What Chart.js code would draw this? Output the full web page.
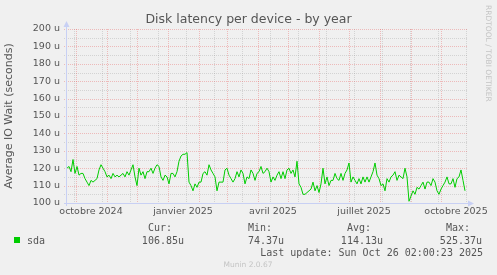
<!doctype html>
<html lang="fr">
<head>
  <meta charset="utf-8">
  <title>Disk latency per device - by year</title>
  <script src="https://cdn.jsdelivr.net/npm/chart.js@4.4.1/dist/chart.umd.min.js"></script>
  <style>
    html, body { margin: 0; padding: 0; background: #F0F0F0; }
    #wrap { width: 497px; height: 275px; }
  </style>
</head>
<body>
<div id="wrap"><canvas id="latency" width="497" height="275"></canvas></div>
<script>
// sda IO wait in microseconds, one sample every 2 days from 21 Sep 2024
var startDate = "2024-09-21";
var stepDays = 2;
var sda = [
  120, 121, 118, 125, 117, 121, 116, 117, 117, 114,
  112, 110, 113, 112, 113, 114, 119, 122, 120, 118,
  115, 116, 114, 117, 115, 116, 115, 116, 117, 115,
  118, 116, 119, 122, 115, 110, 120, 116, 118, 114,
  118, 118, 120, 117, 120, 122, 121, 115, 113, 116,
  115, 111, 117, 117, 115, 118, 124, 127, 128, 128,
  129, 112, 110, 107, 111, 109, 112, 112, 117, 118,
  116, 122, 119, 117, 115, 107, 112, 112, 112, 119,
  120, 116, 114, 112, 114, 118, 115, 119, 117, 111,
  115, 114, 119, 117, 113, 117, 118, 121, 117, 118,
  120, 118, 112, 115, 113, 116, 118, 114, 118, 114,
  119, 120, 117, 119, 115, 124, 111, 109, 105, 105,
  106, 107, 108, 112, 107, 110, 106, 111, 120, 111,
  115, 110, 113, 113, 117, 114, 113, 117, 113, 117,
  119, 123, 112, 115, 113, 111, 114, 111, 115, 112,
  115, 112, 115, 118, 123, 116, 114, 110, 111, 107,
  114, 112, 115, 116, 118, 113, 116, 115, 114, 120,
  115, 101, 104, 107, 105, 109, 108, 110, 112, 108,
  112, 112, 110, 114, 112, 107, 105, 108, 110, 112,
  115, 111, 111, 114, 109, 114, 115, 119, 113, 107
];
var endDate = "2025-10-26";

var xLabelDates = ["2024-10-15", "2025-01-15", "2025-04-15", "2025-07-15", "2025-10-15"];
var xLabels = ["octobre 2024", "janvier 2025", "avril 2025", "juillet 2025", "octobre 2025"];
var monthStarts = ["2024-10-01", "2024-11-01", "2024-12-01", "2025-01-01", "2025-02-01", "2025-03-01",
  "2025-04-01", "2025-05-01", "2025-06-01", "2025-07-01", "2025-08-01", "2025-09-01", "2025-10-01"];
var minorGridFrom = "2024-09-29"; // every 4 weeks
var minorGridDays = 28;

var yMin = 100, yMax = 200, yStep = 10;

var seriesName = "sda";
var statNames = ["Cur:", "Min:", "Avg:", "Max:"];
var statValues = ["106.85u", "74.37u", "114.13u", "525.37u"];
var lastUpdate = "Last update: Sun Oct 26 02:00:23 2025";

var green = "#00CC00";
var textColor = "#555555";
var axisColor = "#C8D0F4";
var majorColor = "rgba(230, 70, 70, 0.32)";
var minorColor = "rgba(150, 150, 150, 0.32)";

function dayOf(s) {
  return Math.round((Date.parse(s) - Date.parse(startDate)) / 86400000);
}

var points = sda.map(function (v, i) { return { x: i * stepDays, y: v }; });

var rrdGrid = {
  id: "rrdGrid",
  beforeDatasetsDraw: function (chart) {
    var c = chart.ctx, a = chart.chartArea;
    var xs = chart.scales.x, ys = chart.scales.y;
    function hline(v) {
      var p = Math.round(ys.getPixelForValue(v)) + 0.5;
      c.beginPath(); c.moveTo(a.left - 3, p); c.lineTo(a.right, p); c.stroke();
    }
    function vline(d) {
      var p = Math.round(xs.getPixelForValue(d)) - 0.5;
      c.beginPath(); c.moveTo(p, a.top); c.lineTo(p, a.bottom + 2); c.stroke();
    }
    c.save();
    c.lineWidth = 1;
    c.setLineDash([1, 1]);
    c.strokeStyle = minorColor;
    for (var v = yMin + yStep / 2; v < yMax; v += yStep) hline(v);
    for (var d = dayOf(minorGridFrom); d <= dayOf(endDate); d += minorGridDays) vline(d);
    c.strokeStyle = majorColor;
    for (v = yMin; v <= yMax; v += yStep) hline(v);
    monthStarts.forEach(function (m) { vline(dayOf(m)); });
    c.restore();
  },
  afterDatasetsDraw: function (chart) {
    var c = chart.ctx, a = chart.chartArea;
    var lx = Math.round(a.left) - 0.5, by = Math.round(a.bottom) + 0.5;
    c.save();
    c.strokeStyle = axisColor;
    c.fillStyle = axisColor;
    c.lineWidth = 1;
    c.beginPath(); c.moveTo(lx, a.bottom + 3); c.lineTo(lx, a.top - 4); c.stroke();
    c.beginPath(); c.moveTo(a.left - 3, by); c.lineTo(a.right + 2, by); c.stroke();
    c.beginPath(); c.moveTo(lx - 3, a.top - 2); c.lineTo(lx + 3, a.top - 2); c.lineTo(lx, a.top - 8); c.fill();
    c.beginPath(); c.moveTo(a.right + 1, by - 3); c.lineTo(a.right + 1, by + 3); c.lineTo(a.right + 7, by); c.fill();
    c.restore();
  }
};

var rrdLegend = {
  id: "rrdLegend",
  afterDraw: function (chart) {
    var c = chart.ctx;
    var headRight = [172, 272, 371, 470];
    var valRight = [184, 284, 383, 482];
    c.save();
    c.fillStyle = green;
    c.fillRect(14, 237, 6, 6);
    c.fillStyle = textColor;
    c.font = '10px "DejaVu Sans Mono"';
    c.textBaseline = "alphabetic";
    c.textAlign = "left";
    c.fillText(seriesName, 27, 243.5);
    c.textAlign = "right";
    statNames.forEach(function (s, i) { c.fillText(s, headRight[i], 231); });
    statValues.forEach(function (s, i) { c.fillText(s, valRight[i], 243.5); });
    c.fillText(lastUpdate, 483, 256);
    c.fillStyle = "#C4C4C4";
    c.font = '7.5px "DejaVu Sans"';
    c.textAlign = "center";
    c.fillText("Munin 2.0.67", 248, 267);
    c.translate(488, 5);
    c.rotate(Math.PI / 2);
    c.textAlign = "left";
    c.textBaseline = "middle";
    c.fillText("RRDTOOL / TOBI OETIKER", 0, 0);
    c.restore();
  }
};

var ctx = document.getElementById("latency").getContext("2d");
var chart = new Chart(ctx, {
  type: "line",
  data: {
    datasets: [{
      label: seriesName,
      data: points,
      borderColor: green,
      borderWidth: 1,
      pointRadius: 0,
      tension: 0,
      fill: false
    }]
  },
  options: {
    responsive: false,
    animation: false,
    devicePixelRatio: 1,
    layout: { padding: { left: 0, right: 0, top: 0, bottom: 58 } },
    plugins: {
      legend: { display: false },
      tooltip: { enabled: false },
      title: {
        display: true,
        text: "Disk latency per device - by year",
        color: textColor,
        font: { family: "DejaVu Sans", size: 12.5, weight: "normal" },
        padding: { top: 12, bottom: 2 }
      }
    },
    scales: {
      x: {
        type: "linear",
        min: 0,
        max: dayOf(endDate),
        grid: { display: false, drawTicks: false },
        border: { display: false },
        afterBuildTicks: function (s) {
          s.ticks = xLabelDates.map(function (d) { return { value: dayOf(d) }; });
        },
        afterFit: function (s) { s.height = 14; },
        ticks: {
          autoSkip: false,
          maxRotation: 0,
          padding: 3,
          color: textColor,
          font: { family: "DejaVu Sans", size: 9.5 },
          callback: function (v, i) { return xLabels[i]; }
        }
      },
      y: {
        min: yMin,
        max: yMax,
        grid: { display: false, drawTicks: false },
        border: { display: false },
        afterFit: function (s) { s.width = 67; },
        ticks: {
          stepSize: yStep,
          padding: 7,
          color: textColor,
          font: { family: "DejaVu Sans", size: 9.5 },
          callback: function (v) { return v + " u"; }
        },
        title: {
          display: true,
          text: "Average IO Wait (seconds)",
          color: textColor,
          font: { family: "DejaVu Sans", size: 11 },
          padding: { top: 3, bottom: 0 }
        }
      },
      side: {
        position: "right",
        min: 0,
        max: 1,
        grid: { display: false, drawTicks: false },
        border: { display: false },
        ticks: { display: false },
        afterFit: function (s) { s.width = 30; }
      }
    }
  },
  plugins: [rrdGrid, rrdLegend]
});
</script>
</body>
</html>
